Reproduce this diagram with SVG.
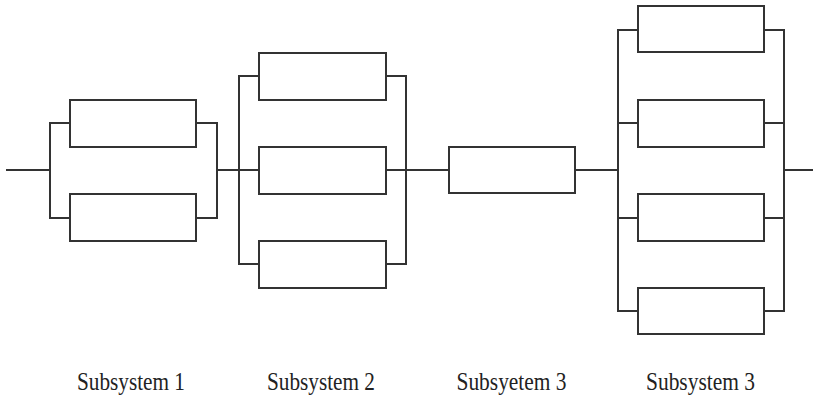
<svg xmlns="http://www.w3.org/2000/svg" width="813" height="398" viewBox="0 0 813 398">
  <style>
    .blk { fill: #fff; stroke: #333; stroke-width: 2; }
    .wire { fill: none; stroke: #333; stroke-width: 2; stroke-linecap: square; }
    .cap { font-family: "Liberation Serif", "Times New Roman", serif; font-size: 25px; fill: #222; text-anchor: middle; }
  </style>
  <rect width="813" height="398" fill="#fff"/>

  <g id="connectors" class="wire">
    <!-- main line -->
    <path d="M7 170 H50 M217 170 H239 M406 170 H449 M575 170 H618 M784 170 H813"/>
    <!-- subsystem 1 rails -->
    <path d="M50 123 V218 M50 123 H70 M50 218 H70 M217 123 V218 M196 123 H217 M196 218 H217"/>
    <!-- subsystem 2 rails -->
    <path d="M239 76 V264 M239 76 H259 M239 170 H259 M239 264 H259 M406 76 V264 M386 76 H406 M386 170 H406 M386 264 H406"/>
    <!-- subsystem 4 rails -->
    <path d="M618 30 V311 M618 30 H638 M618 123 H638 M618 218 H638 M618 311 H638 M784 30 V311 M764 30 H784 M764 123 H784 M764 218 H784 M764 311 H784"/>
  </g>

  <g id="s1a"><rect class="blk" x="70" y="100" width="126" height="47"/></g>
  <g id="s1b"><rect class="blk" x="70" y="194" width="126" height="47"/></g>

  <g id="s2a"><rect class="blk" x="259" y="53" width="127" height="47"/></g>
  <g id="s2b"><rect class="blk" x="259" y="147" width="127" height="47"/></g>
  <g id="s2c"><rect class="blk" x="259" y="241" width="127" height="47"/></g>

  <g id="s3"><rect class="blk" x="449" y="147" width="126" height="46"/></g>

  <g id="s4a"><rect class="blk" x="638" y="6" width="126" height="46"/></g>
  <g id="s4b"><rect class="blk" x="638" y="100" width="126" height="47"/></g>
  <g id="s4c"><rect class="blk" x="638" y="194" width="126" height="47"/></g>
  <g id="s4d"><rect class="blk" x="638" y="288" width="126" height="46"/></g>

  <g id="labels">
    <text class="cap" x="131" y="390" textLength="108" lengthAdjust="spacingAndGlyphs">Subsystem 1</text>
    <text class="cap" x="321" y="390" textLength="108" lengthAdjust="spacingAndGlyphs">Subsystem 2</text>
    <text class="cap" x="511.5" y="390" textLength="110" lengthAdjust="spacingAndGlyphs">Subsyetem 3</text>
    <text class="cap" x="700.5" y="390" textLength="109" lengthAdjust="spacingAndGlyphs">Subsystem 3</text>
  </g>
</svg>
